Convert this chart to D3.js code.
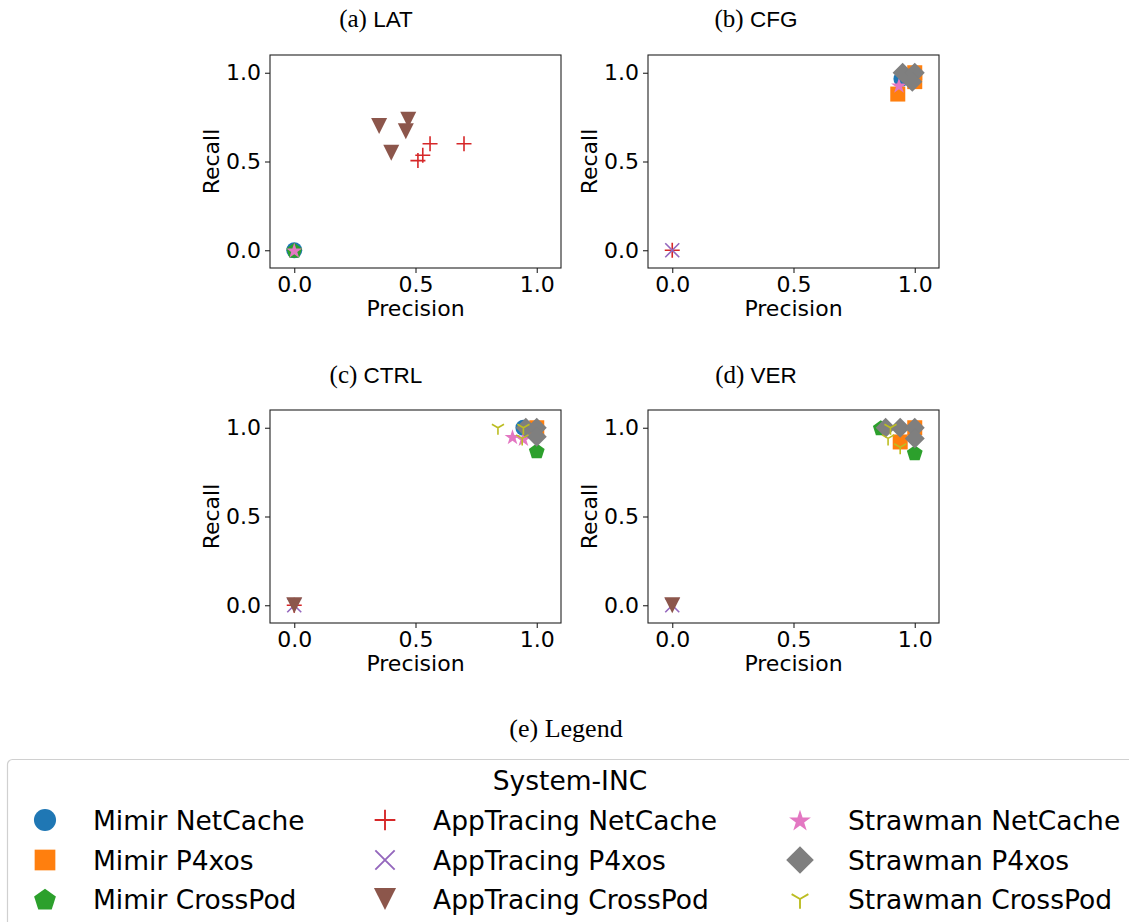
<!DOCTYPE html>
<html>
<head>
<meta charset="utf-8">
<script src="https://cdn.jsdelivr.net/npm/d3@7/dist/d3.min.js"></script>
<style>
  html, body { margin: 0; padding: 0; background: #fff; }
  svg { display: block; }
</style>
</head>
<body>
<svg id="chart" width="1129" height="922"></svg>
<script>
// ---------------- DATA ----------------
const seriesNames = ["Mimir NetCache", "Mimir P4xos", "Mimir CrossPod",
  "AppTracing NetCache", "AppTracing P4xos", "AppTracing CrossPod",
  "Strawman NetCache", "Strawman P4xos", "Strawman CrossPod"];
const seriesColors = ["#1f77b4", "#ff7f0e", "#2ca02c", "#d62728", "#9467bd",
  "#8c564b", "#e377c2", "#7f7f7f", "#bcbd22"];
const seriesMarkers = ["circle", "square", "pentagon", "plus", "cross",
  "triDown", "star", "diamond", "tri"];

const panelTags = ["(a)", "(b)", "(c)", "(d)"];
const panelNames = ["LAT", "CFG", "CTRL", "VER"];
const tickValues = [0.0, 0.5, 1.0];
const legendTitle = "System-INC";
const legendCaption = "(e) Legend";

// per panel: series index, precision, recall
const latSeries    = [0, 2, 3, 3, 3, 3, 5, 5, 5, 5, 6];
const latPrecision = [0, 0, 0.56, 0.70, 0.53, 0.51, 0.35, 0.47, 0.46, 0.40, 0];
const latRecall    = [0, 0, 0.60, 0.60, 0.535, 0.505, 0.70, 0.735, 0.67, 0.55, 0];

const cfgSeries    = [0, 1, 1, 1, 3, 4, 6, 7, 7, 7];
const cfgPrecision = [0.945, 0.93, 1.0, 1.0, 0, 0, 0.935, 0.95, 1.0, 0.99];
const cfgRecall    = [0.965, 0.88, 1.0, 0.95, 0, 0, 0.93, 1.0, 1.0, 0.95];

const ctrlSeries    = [0, 1, 2, 3, 4, 5, 6, 6, 7, 7, 7, 8, 8, 8];
const ctrlPrecision = [0.945, 1.0, 1.0, 0, 0, 0, 0.90, 0.945, 0.955, 1.0, 1.0, 0.84, 0.945, 0.94];
const ctrlRecall    = [1.0, 1.0, 0.87, 0, 0, 0, 0.95, 0.94, 1.0, 1.0, 0.95, 1.0, 1.0, 0.94];

const verSeries    = [1, 1, 2, 2, 4, 5, 7, 7, 7, 7, 8, 8, 8];
const verPrecision = [1.0, 0.94, 0.86, 1.0, 0, 0, 0.88, 0.94, 1.0, 1.0, 0.90, 0.89, 0.94];
const verRecall    = [1.0, 0.92, 1.0, 0.86, 0, 0, 1.0, 1.0, 1.0, 0.94, 1.0, 0.94, 0.89];

// ---------------- LAYOUT ----------------
const svg = d3.select("#chart");
const panelBoxes = [
  {x0: 270, x1: 561, y0: 55,  y1: 268, titleX: 376, titleY: 27},
  {x0: 648, x1: 939, y0: 55,  y1: 268, titleX: 756, titleY: 27},
  {x0: 270, x1: 561, y0: 410, y1: 623, titleX: 376, titleY: 383},
  {x0: 648, x1: 939, y0: 410, y1: 623, titleX: 756, titleY: 383}
];
const panelData = [
  [latSeries, latPrecision, latRecall],
  [cfgSeries, cfgPrecision, cfgRecall],
  [ctrlSeries, ctrlPrecision, ctrlRecall],
  [verSeries, verPrecision, verRecall]
];

// ---------------- MARKERS ----------------
function markerPath(type, k) {
  switch (type) {
    case "circle": { const r = 8 * k; return d3.symbol(d3.symbolCircle, Math.PI * r * r)(); }
    case "square": { const s = 7.5 * k; return `M${-s},${-s}H${s}V${s}H${-s}Z`; }
    case "pentagon": {
      const r = 8.3 * k; let p = "";
      for (let i = 0; i < 5; i++) {
        const a = -Math.PI / 2 + i * 2 * Math.PI / 5;
        p += (i ? "L" : "M") + (r * Math.cos(a)).toFixed(2) + "," + (r * Math.sin(a) + r * 0.1).toFixed(2);
      }
      return p + "Z";
    }
    case "plus": { const s = 7.5 * k; return `M${-s},0H${s}M0,${-s}V${s}`; }
    case "cross": { const s = 7 * k; return `M${-s},${-s}L${s},${s}M${-s},${s}L${s},${-s}`; }
    case "triDown": { const w = 8 * k, h = 8 * k; return `M${-w},${-h}L${w},${-h}L0,${h}Z`; }
    case "star": {
      const R = 8.3 * k, r = R * 0.382; let p = "";
      for (let i = 0; i < 10; i++) {
        const a = -Math.PI / 2 + i * Math.PI / 5;
        const rr = i % 2 ? r : R;
        p += (i ? "L" : "M") + (rr * Math.cos(a)).toFixed(2) + "," + (rr * Math.sin(a) + R * 0.1).toFixed(2);
      }
      return p + "Z";
    }
    case "diamond": { const s = 10 * k; return `M0,${-s}L${s},0L0,${s}L${-s},0Z`; }
    case "tri": { const r = 7 * k; return `M0,0V${r}M0,0L${-0.866 * r},${-0.5 * r}M0,0L${0.866 * r},${-0.5 * r}`; }
  }
}
const strokeMarkers = new Set(["plus", "cross", "tri"]);
function drawMarker(g, si, x, y, k) {
  const type = seriesMarkers[si];
  const p = g.append("path")
    .attr("d", markerPath(type, k))
    .attr("transform", `translate(${x},${y})`);
  if (strokeMarkers.has(type)) {
    p.attr("fill", "none").attr("stroke", seriesColors[si])
     .attr("stroke-width", 1.6 * Math.sqrt(k)).attr("stroke-linecap", "butt");
  } else {
    p.attr("fill", seriesColors[si]).attr("stroke", "none");
  }
}

// ---------------- PANELS ----------------
panelBoxes.forEach((b, pi) => {
  const x = d3.scaleLinear().domain([-0.1, 1.1]).range([b.x0, b.x1]);
  const y = d3.scaleLinear().domain([-0.1, 1.1]).range([b.y1, b.y0]);

  const t = svg.append("text")
    .attr("x", b.titleX).attr("y", b.titleY)
    .attr("text-anchor", "middle").attr("fill", "#000");
  t.append("tspan").attr("font-family", "'Liberation Serif', 'Times New Roman', serif")
    .attr("font-size", 25).text(panelTags[pi] + " ");
  t.append("tspan").attr("font-family", "'Liberation Sans', Arial, sans-serif")
    .attr("font-size", 22.5).text(panelNames[pi]);

  const [ser, px, py] = panelData[pi];
  const idx = d3.range(ser.length).sort((a, c) => ser[a] - ser[c] || a - c);
  const gm = svg.append("g");
  idx.forEach(i => drawMarker(gm, ser[i], x(px[i]), y(py[i]), 1));

  const fmt = d3.format(".1f");
  const gx = svg.append("g").attr("transform", `translate(0,${b.y1})`)
    .call(d3.axisBottom(x).tickValues(tickValues).tickFormat(fmt).tickSize(5).tickPadding(3));
  const gy = svg.append("g").attr("transform", `translate(${b.x0},0)`)
    .call(d3.axisLeft(y).tickValues(tickValues).tickFormat(fmt).tickSize(5).tickPadding(4));
  [gx, gy].forEach(g => {
    g.select(".domain").remove();
    g.selectAll(".tick line").attr("stroke", "#222").attr("stroke-width", 1.1);
    g.selectAll(".tick text").attr("font-family", "'DejaVu Sans', sans-serif")
      .attr("font-size", 22).attr("fill", "#000");
  });

  svg.append("rect")
    .attr("x", b.x0).attr("y", b.y0)
    .attr("width", b.x1 - b.x0).attr("height", b.y1 - b.y0)
    .attr("fill", "none").attr("stroke", "#222").attr("stroke-width", 1.1);

  svg.append("text")
    .attr("x", (b.x0 + b.x1) / 2).attr("y", b.y1 + 48)
    .attr("text-anchor", "middle")
    .attr("font-family", "'DejaVu Sans', sans-serif").attr("font-size", 22)
    .text("Precision");
  svg.append("text")
    .attr("transform", `translate(${b.x0 - 51},${(b.y0 + b.y1) / 2}) rotate(-90)`)
    .attr("text-anchor", "middle")
    .attr("font-family", "'DejaVu Sans', sans-serif").attr("font-size", 22)
    .text("Recall");
});

// ---------------- LEGEND ----------------
svg.append("text")
  .attr("x", 566).attr("y", 737).attr("text-anchor", "middle")
  .attr("font-family", "'Liberation Serif', 'Times New Roman', serif")
  .attr("font-size", 26).text(legendCaption);

svg.append("rect")
  .attr("x", 7.5).attr("y", 759.5).attr("width", 1140).attr("height", 200)
  .attr("rx", 5).attr("fill", "#fff").attr("stroke", "#d0d0d0").attr("stroke-width", 1.2);

svg.append("text")
  .attr("x", 570).attr("y", 790).attr("text-anchor", "middle")
  .attr("font-family", "'DejaVu Sans', sans-serif").attr("font-size", 26.5)
  .text(legendTitle);

const legMarkerX = [45, 385, 800];
const legTextX = [93, 433, 848];
const legRowY = [820, 860, 899];
const gl = svg.append("g");
seriesNames.forEach((name, si) => {
  const col = Math.floor(si / 3), row = si % 3;
  drawMarker(gl, si, legMarkerX[col], legRowY[row], 1.38);
  gl.append("text")
    .attr("x", legTextX[col]).attr("y", legRowY[row] + 9.5)
    .attr("font-family", "'DejaVu Sans', sans-serif").attr("font-size", 26.5)
    .text(name);
});
</script>
</body>
</html>
